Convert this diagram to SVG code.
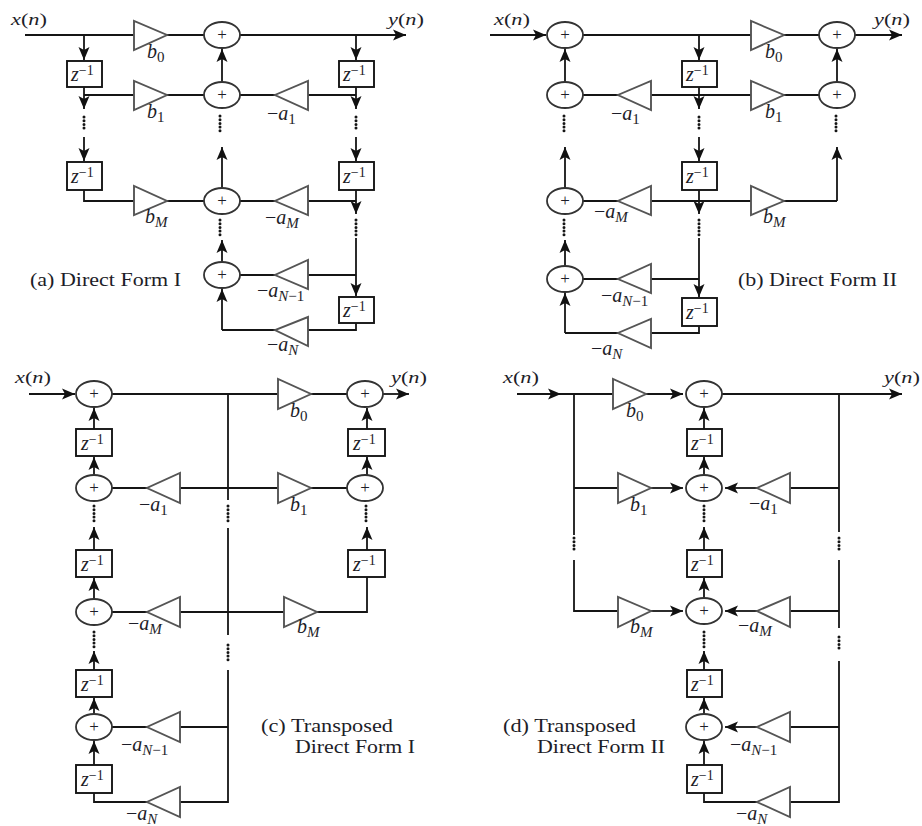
<svg xmlns="http://www.w3.org/2000/svg" width="922" height="826" viewBox="0 0 922 826">
<style>
text{font-family:"Liberation Serif","Times New Roman",serif;fill:#1d1d28}
.c path{fill:none;stroke:#151515;stroke-width:1.8}
.c path.a{marker-end:url(#ah)}
.c path.d{stroke-width:3;stroke-linecap:round;stroke-dasharray:0 3.7}
.s ellipse{fill:#fff;stroke:#333;stroke-width:1.8}
.s text{font-size:17px;text-anchor:middle}
.t polygon{fill:#fff;stroke:#555;stroke-width:1.9}
.t text{font-size:20px;font-style:italic}
.t tspan{font-size:15px}
.t .r{font-size:20px;font-style:normal}
.t .n{font-style:normal}
.z rect{fill:#fff;stroke:#151515;stroke-width:1.9}
.z text{font-size:20px;font-style:italic}
.z tspan{font-size:14px;font-style:normal}
.l{font-size:18px}
.i{font-style:italic}
</style>
<defs>
<marker id="ah" markerUnits="userSpaceOnUse" markerWidth="14" markerHeight="14" refX="13" refY="7" orient="auto"><path d="M0,1.5 L13,7 L0,12.5 L3,7 Z" fill="#111"/></marker>
</defs>

<g id="connectors" class="c">
<path class="a" d="M25,35H406"/>
<path class="a" d="M84,35V60"/><path class="a" d="M84,87V109"/><path d="M84,95H134"/>
<path class="d" d="M84,117V131"/><path class="a" d="M84,137V161"/><path d="M84,190V201H134"/>
<path d="M167,35H204"/><path d="M167,95H204"/><path d="M167,201H204"/>
<path class="a" d="M222,82V49"/><path class="d" d="M220,116V131"/><path class="a" d="M222,188V147"/>
<path class="d" d="M220,220V235"/><path class="a" d="M222,262V240"/><path class="a" d="M222,330V289"/>
<path d="M240,95H275"/><path d="M240,201H275"/><path d="M240,275H275"/><path d="M222,330H275"/>
<path class="a" d="M356,35V60"/><path class="a" d="M356,87V109"/><path d="M308,95H356"/>
<path class="d" d="M356,117V131"/><path class="a" d="M356,137V161"/><path class="a" d="M356,190V214"/><path d="M308,201H356"/>
<path class="d" d="M356,220V235"/><path class="a" d="M356,238V296"/><path d="M308,275H356"/><path d="M356,323V330H308"/>
<path class="a" d="M490,35H546"/><path d="M583,35H751"/><path d="M784,35H819"/><path class="a" d="M855,35H902"/>
<path class="a" d="M699,35V60"/><path class="a" d="M699,87V109"/><path class="d" d="M699,117V131"/><path class="a" d="M699,137V161"/>
<path class="a" d="M699,190V214"/><path class="d" d="M699,220V235"/><path class="a" d="M699,238V297"/><path d="M699,326V333H651"/>
<path d="M651,95H751"/><path d="M651,201H751"/><path d="M651,279H699"/>
<path d="M784,95H819"/><path d="M784,201H837"/><path class="a" d="M837,201V147"/><path class="a" d="M837,82V49"/>
<path class="d" d="M836,116V131"/>
<path d="M583,95H618"/><path d="M583,201H618"/><path d="M583,279H618"/><path d="M618,333H565"/>
<path class="a" d="M565,82V49"/><path class="d" d="M564,116V131"/><path class="a" d="M565,188V147"/><path class="d" d="M564,220V235"/>
<path class="a" d="M565,266V240"/><path class="a" d="M565,333V293"/>
<path class="a" d="M29,394H75"/><path d="M112,394H278"/><path d="M311,394H347"/><path class="a" d="M383,394H409"/>
<path d="M228,394V500"/>
<path class="d" d="M228,506V521"/><path d="M228,528V635"/><path class="d" d="M228,645V660"/><path d="M228,670V802H180"/>
<path d="M112,488H147"/><path d="M180,488H278"/><path d="M311,488H347"/>
<path d="M112,612H147"/><path d="M180,612H284"/><path d="M317,612H367V577"/>
<path d="M112,727H147"/><path d="M180,727H228"/><path d="M147,802H94V793"/>
<path class="a" d="M94,429V408"/><path class="a" d="M94,475V457"/><path class="d" d="M94,506V521"/><path class="a" d="M94,550V527"/>
<path class="a" d="M94,599V578"/><path class="d" d="M94,632V647"/><path class="a" d="M94,670V651"/><path class="a" d="M94,714V698"/><path class="a" d="M94,765V741"/>
<path class="a" d="M367,429V408"/><path class="a" d="M367,475V457"/><path class="d" d="M366,506V521"/><path class="a" d="M367,550V527"/>
<path d="M517,394H613"/><path class="a" d="M517,394H561"/><path class="a" d="M646,394H683"/><path class="a" d="M722,394H902"/>
<path d="M574,394V535"/><path class="d" d="M574,538V552"/><path d="M574,560V611H618"/><path d="M574,488H618"/>
<path class="a" d="M651,488H683"/><path class="a" d="M651,611H683"/>
<path class="a" d="M757,488H725"/><path class="a" d="M757,611H725"/><path class="a" d="M757,727H725"/>
<path d="M790,488H839"/><path d="M790,611H839"/><path d="M790,727H839"/>
<path d="M839,394V532"/><path class="d" d="M839,538V552"/><path d="M839,560V628"/><path class="d" d="M839,637V651"/><path d="M839,661V802H790"/>
<path d="M757,802H704V793"/>
<path class="a" d="M704,429V408"/><path class="a" d="M704,475V457"/><path class="d" d="M704,506V521"/><path class="a" d="M704,550V527"/>
<path class="a" d="M704,599V578"/><path class="d" d="M704,632V647"/><path class="a" d="M704,670V651"/><path class="a" d="M704,714V698"/><path class="a" d="M704,765V741"/>
</g>

<g id="panel-a">
<text id="a-x" x="11" y="25" font-size="17" textLength="36" lengthAdjust="spacingAndGlyphs"><tspan class="i">x</tspan>(<tspan class="i">n</tspan>)</text>
<text id="a-y" x="388" y="25" font-size="17" textLength="36" lengthAdjust="spacingAndGlyphs"><tspan class="i">y</tspan>(<tspan class="i">n</tspan>)</text>
<text id="a-cap" class="l" x="30" y="286" textLength="151" lengthAdjust="spacingAndGlyphs">(a) Direct Form I</text>
<g id="a-s0" class="s"><ellipse cx="222" cy="35" rx="18" ry="13"/><text x="222" y="40">+</text></g>
<g id="a-s1" class="s"><ellipse cx="222" cy="95" rx="18" ry="13"/><text x="222" y="100">+</text></g>
<g id="a-s2" class="s"><ellipse cx="222" cy="201" rx="18" ry="13"/><text x="222" y="206">+</text></g>
<g id="a-s3" class="s"><ellipse cx="222" cy="275" rx="18" ry="13"/><text x="222" y="280">+</text></g>
<g id="a-b0" class="t"><polygon points="134,21 134,50 167,35"/><text x="147" y="58">b<tspan class="n" dy="4">0</tspan></text></g>
<g id="a-b1" class="t"><polygon points="134,81 134,110 167,95"/><text x="147" y="118">b<tspan class="n" dy="4">1</tspan></text></g>
<g id="a-bM" class="t"><polygon points="134,186 134,215 167,201"/><text x="145" y="223">b<tspan dy="4">M</tspan></text></g>
<g id="a-a1" class="t"><polygon points="308,81 308,110 275,95"/><text x="267" y="120"><tspan class="r">−</tspan>a<tspan class="n" dy="4">1</tspan></text></g>
<g id="a-aM" class="t"><polygon points="308,186 308,215 275,201"/><text x="265" y="224"><tspan class="r">−</tspan>a<tspan dy="4">M</tspan></text></g>
<g id="a-aN1" class="t"><polygon points="308,260 308,289 275,275"/><text x="257" y="297"><tspan class="r">−</tspan>a<tspan dy="4">N</tspan><tspan class="n">−1</tspan></text></g>
<g id="a-aN" class="t"><polygon points="308,317 308,346 275,330"/><text x="267" y="351"><tspan class="r">−</tspan>a<tspan dy="4">N</tspan></text></g>
<g id="a-z1" class="z"><rect x="67" y="61" width="35" height="26"/><text x="71" y="81">z<tspan dy="-6">−1</tspan></text></g>
<g id="a-z2" class="z"><rect x="67" y="162" width="35" height="28"/><text x="71" y="183">z<tspan dy="-6">−1</tspan></text></g>
<g id="a-z3" class="z"><rect x="339" y="61" width="35" height="26"/><text x="343" y="81">z<tspan dy="-6">−1</tspan></text></g>
<g id="a-z4" class="z"><rect x="339" y="162" width="35" height="28"/><text x="343" y="183">z<tspan dy="-6">−1</tspan></text></g>
<g id="a-z5" class="z"><rect x="339" y="297" width="35" height="26"/><text x="343" y="317">z<tspan dy="-6">−1</tspan></text></g>
</g>

<g id="panel-b">
<text id="b-x" x="494" y="25" font-size="17" textLength="36" lengthAdjust="spacingAndGlyphs"><tspan class="i">x</tspan>(<tspan class="i">n</tspan>)</text>
<text id="b-y" x="874" y="25" font-size="17" textLength="36" lengthAdjust="spacingAndGlyphs"><tspan class="i">y</tspan>(<tspan class="i">n</tspan>)</text>
<text id="b-cap" class="l" x="738" y="286" textLength="159" lengthAdjust="spacingAndGlyphs">(b) Direct Form II</text>
<g id="b-s0" class="s"><ellipse cx="565" cy="35" rx="18" ry="13"/><text x="565" y="40">+</text></g>
<g id="b-s1" class="s"><ellipse cx="565" cy="95" rx="18" ry="13"/><text x="565" y="100">+</text></g>
<g id="b-s2" class="s"><ellipse cx="565" cy="201" rx="18" ry="13"/><text x="565" y="206">+</text></g>
<g id="b-s3" class="s"><ellipse cx="565" cy="279" rx="18" ry="13"/><text x="565" y="284">+</text></g>
<g id="b-s4" class="s"><ellipse cx="837" cy="35" rx="18" ry="13"/><text x="837" y="40">+</text></g>
<g id="b-s5" class="s"><ellipse cx="837" cy="95" rx="18" ry="13"/><text x="837" y="100">+</text></g>
<g id="b-b0" class="t"><polygon points="751,21 751,50 784,35"/><text x="765" y="58">b<tspan class="n" dy="4">0</tspan></text></g>
<g id="b-b1" class="t"><polygon points="751,81 751,110 784,95"/><text x="765" y="118">b<tspan class="n" dy="4">1</tspan></text></g>
<g id="b-bM" class="t"><polygon points="751,186 751,215 784,201"/><text x="763" y="223">b<tspan dy="4">M</tspan></text></g>
<g id="b-a1" class="t"><polygon points="651,81 651,110 618,95"/><text x="611" y="120"><tspan class="r">−</tspan>a<tspan class="n" dy="4">1</tspan></text></g>
<g id="b-aM" class="t"><polygon points="651,186 651,215 618,201"/><text x="594" y="218"><tspan class="r">−</tspan>a<tspan dy="4">M</tspan></text></g>
<g id="b-aN1" class="t"><polygon points="651,264 651,293 618,279"/><text x="601" y="302"><tspan class="r">−</tspan>a<tspan dy="4">N</tspan><tspan class="n">−1</tspan></text></g>
<g id="b-aN" class="t"><polygon points="651,319 651,348 618,333"/><text x="591" y="355"><tspan class="r">−</tspan>a<tspan dy="4">N</tspan></text></g>
<g id="b-z1" class="z"><rect x="682" y="61" width="35" height="26"/><text x="686" y="81">z<tspan dy="-6">−1</tspan></text></g>
<g id="b-z2" class="z"><rect x="682" y="162" width="35" height="28"/><text x="686" y="183">z<tspan dy="-6">−1</tspan></text></g>
<g id="b-z3" class="z"><rect x="682" y="298" width="35" height="28"/><text x="686" y="319">z<tspan dy="-6">−1</tspan></text></g>
</g>

<g id="panel-c">
<text id="c-x" x="15" y="383" font-size="17" textLength="36" lengthAdjust="spacingAndGlyphs"><tspan class="i">x</tspan>(<tspan class="i">n</tspan>)</text>
<text id="c-y" x="391" y="383" font-size="17" textLength="36" lengthAdjust="spacingAndGlyphs"><tspan class="i">y</tspan>(<tspan class="i">n</tspan>)</text>
<text id="c-cap1" class="l" x="261" y="732" textLength="132" lengthAdjust="spacingAndGlyphs">(c) Transposed</text>
<text id="c-cap2" class="l" x="295" y="753" textLength="120" lengthAdjust="spacingAndGlyphs">Direct Form I</text>
<g id="c-s0" class="s"><ellipse cx="94" cy="394" rx="18" ry="13"/><text x="94" y="399">+</text></g>
<g id="c-s1" class="s"><ellipse cx="94" cy="488" rx="18" ry="13"/><text x="94" y="493">+</text></g>
<g id="c-s2" class="s"><ellipse cx="94" cy="612" rx="18" ry="13"/><text x="94" y="617">+</text></g>
<g id="c-s3" class="s"><ellipse cx="94" cy="727" rx="18" ry="13"/><text x="94" y="732">+</text></g>
<g id="c-s4" class="s"><ellipse cx="365" cy="394" rx="18" ry="13"/><text x="365" y="399">+</text></g>
<g id="c-s5" class="s"><ellipse cx="365" cy="488" rx="18" ry="13"/><text x="365" y="493">+</text></g>
<g id="c-b0" class="t"><polygon points="278,379 278,409 311,394"/><text x="290" y="417">b<tspan class="n" dy="4">0</tspan></text></g>
<g id="c-b1" class="t"><polygon points="278,473 278,503 311,488"/><text x="290" y="511">b<tspan class="n" dy="4">1</tspan></text></g>
<g id="c-bM" class="t"><polygon points="284,597 284,627 317,612"/><text x="297" y="633">b<tspan dy="4">M</tspan></text></g>
<g id="c-a1" class="t"><polygon points="180,473 180,503 147,488"/><text x="139" y="511"><tspan class="r">−</tspan>a<tspan class="n" dy="4">1</tspan></text></g>
<g id="c-aM" class="t"><polygon points="180,597 180,627 147,612"/><text x="128" y="630"><tspan class="r">−</tspan>a<tspan dy="4">M</tspan></text></g>
<g id="c-aN1" class="t"><polygon points="180,712 180,742 147,727"/><text x="121" y="751"><tspan class="r">−</tspan>a<tspan dy="4">N</tspan><tspan class="n">−1</tspan></text></g>
<g id="c-aN" class="t"><polygon points="180,787 180,817 147,802"/><text x="126" y="820"><tspan class="r">−</tspan>a<tspan dy="4">N</tspan></text></g>
<g id="c-z1" class="z"><rect x="76" y="429" width="36" height="27"/><text x="81" y="450">z<tspan dy="-6">−1</tspan></text></g>
<g id="c-z2" class="z"><rect x="76" y="550" width="36" height="27"/><text x="81" y="571">z<tspan dy="-6">−1</tspan></text></g>
<g id="c-z3" class="z"><rect x="76" y="670" width="36" height="27"/><text x="81" y="691">z<tspan dy="-6">−1</tspan></text></g>
<g id="c-z4" class="z"><rect x="76" y="765" width="36" height="28"/><text x="81" y="786">z<tspan dy="-6">−1</tspan></text></g>
<g id="c-z5" class="z"><rect x="348" y="429" width="37" height="27"/><text x="353" y="450">z<tspan dy="-6">−1</tspan></text></g>
<g id="c-z6" class="z"><rect x="348" y="550" width="37" height="27"/><text x="353" y="571">z<tspan dy="-6">−1</tspan></text></g>
</g>

<g id="panel-d">
<text id="d-x" x="503" y="383" font-size="17" textLength="36" lengthAdjust="spacingAndGlyphs"><tspan class="i">x</tspan>(<tspan class="i">n</tspan>)</text>
<text id="d-y" x="884" y="383" font-size="17" textLength="36" lengthAdjust="spacingAndGlyphs"><tspan class="i">y</tspan>(<tspan class="i">n</tspan>)</text>
<text id="d-cap1" class="l" x="503" y="732" textLength="133" lengthAdjust="spacingAndGlyphs">(d) Transposed</text>
<text id="d-cap2" class="l" x="537" y="753" textLength="128" lengthAdjust="spacingAndGlyphs">Direct Form II</text>
<g id="d-s0" class="s"><ellipse cx="704" cy="394" rx="18" ry="13"/><text x="704" y="399">+</text></g>
<g id="d-s1" class="s"><ellipse cx="704" cy="488" rx="18" ry="13"/><text x="704" y="493">+</text></g>
<g id="d-s2" class="s"><ellipse cx="704" cy="611" rx="18" ry="13"/><text x="704" y="616">+</text></g>
<g id="d-s3" class="s"><ellipse cx="704" cy="727" rx="18" ry="13"/><text x="704" y="732">+</text></g>
<g id="d-b0" class="t"><polygon points="613,379 613,409 646,394"/><text x="626" y="417">b<tspan class="n" dy="4">0</tspan></text></g>
<g id="d-b1" class="t"><polygon points="618,473 618,503 651,488"/><text x="630" y="511">b<tspan class="n" dy="4">1</tspan></text></g>
<g id="d-bM" class="t"><polygon points="618,597 618,627 651,611"/><text x="630" y="633">b<tspan dy="4">M</tspan></text></g>
<g id="d-a1" class="t"><polygon points="790,473 790,503 757,488"/><text x="749" y="510"><tspan class="r">−</tspan>a<tspan class="n" dy="4">1</tspan></text></g>
<g id="d-aM" class="t"><polygon points="790,597 790,627 757,611"/><text x="738" y="632"><tspan class="r">−</tspan>a<tspan dy="4">M</tspan></text></g>
<g id="d-aN1" class="t"><polygon points="790,712 790,742 757,727"/><text x="730" y="751"><tspan class="r">−</tspan>a<tspan dy="4">N</tspan><tspan class="n">−1</tspan></text></g>
<g id="d-aN" class="t"><polygon points="790,787 790,817 757,802"/><text x="736" y="820"><tspan class="r">−</tspan>a<tspan dy="4">N</tspan></text></g>
<g id="d-z1" class="z"><rect x="687" y="429" width="35" height="27"/><text x="691" y="450">z<tspan dy="-6">−1</tspan></text></g>
<g id="d-z2" class="z"><rect x="687" y="550" width="35" height="27"/><text x="691" y="571">z<tspan dy="-6">−1</tspan></text></g>
<g id="d-z3" class="z"><rect x="687" y="670" width="35" height="27"/><text x="691" y="691">z<tspan dy="-6">−1</tspan></text></g>
<g id="d-z4" class="z"><rect x="687" y="765" width="35" height="28"/><text x="691" y="786">z<tspan dy="-6">−1</tspan></text></g>
</g>
</svg>
